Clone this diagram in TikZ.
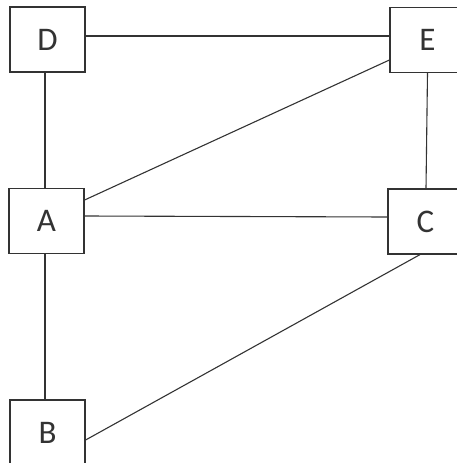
\documentclass[tikz,border=0pt]{standalone}
\usepackage{fontspec}
\setmainfont{Carlito}
\begin{document}
\begin{tikzpicture}[x=1pt,y=-1pt,
  box/.style={draw=black!80, line width=1.2pt, minimum width=75pt, minimum height=65pt, inner sep=0pt, font=\fontsize{33}{36}\selectfont, text=black!80},
  link/.style={draw=black!80, line width=1.1pt}]
\useasboundingbox (0,0) rectangle (456,463);
\node[box] (D) at (47.5,39.5) {D};
\node[box] (E) at (427.5,40) {E};
\node[box] (A) at (46.5,221) {A};
\node[box] (C) at (425.5,221.5) {C};
\node[box] (B) at (47.5,432.5) {B};
\draw[link] ([yshift=3.5pt]D.east) -- ([yshift=4pt]E.west);
\draw[link] ([xshift=-2.5pt]D.south) -- ([xshift=-1.5pt]A.north);
\draw[link] ([yshift=21pt]A.east) -- ([yshift=-20pt]E.west);
\draw[link] ([yshift=5pt]A.east) -- ([yshift=4.5pt]C.west);
\draw[link] (E.south) -- ([xshift=0.5pt]C.north);
\draw[link] ([xshift=-1.5pt]A.south) -- ([xshift=-2.5pt]B.north);
\draw[link] ([xshift=-5.5pt]C.south) -- ([yshift=-7.5pt]B.east);
\end{tikzpicture}
\end{document}
